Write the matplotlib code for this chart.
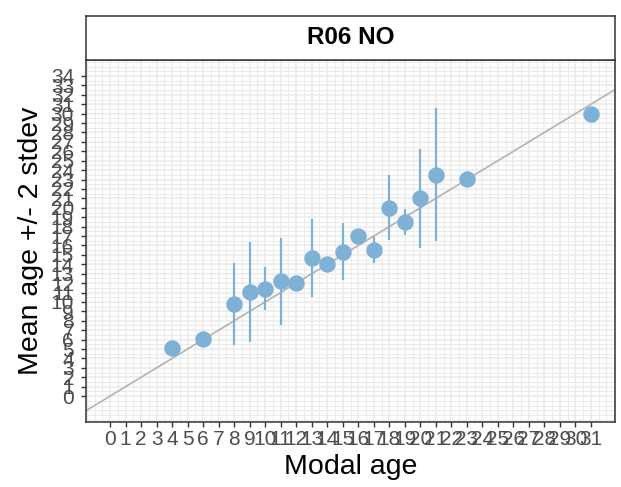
import numpy as np
import matplotlib
matplotlib.use("Agg")
import matplotlib.pyplot as plt
from matplotlib.ticker import MultipleLocator

# values
modal_age = [4, 6, 8, 9, 10, 11, 12, 13, 14, 15, 16, 17, 18, 19, 20, 21, 23, 31]
mean_age = [5.1, 6.1, 9.8, 11.05, 11.4, 12.2, 12.0, 14.7, 14.05, 15.35, 17.05,
            15.5, 20.0, 18.5, 21.0, 23.5, 23.05, 30.0]
two_stdev = [0, 0, 4.35, 5.3, 2.3, 4.6, 0, 4.15, 0, 3.05, 0,
             1.35, 3.45, 1.4, 5.25, 7.05, 0, 0]
x_breaks = list(range(0, 32))
y_breaks = list(range(0, 35))
strip_title = "R06 NO"

point_color = '#7eb1d5'
grid_color = '#ebebeb'
frame_color = '#333333'

plt.rcParams['font.family'] = ['Liberation Sans', 'DejaVu Sans']


def age_bias_plot(fig, xlim, ylim):
    ax = fig.add_axes([86 / 621, 65 / 487, 529 / 621, 362.5 / 487])
    strip = fig.add_axes([86 / 621, 427.5 / 487, 529 / 621, 43.8 / 487])

    ax.set_xlim(xlim)
    ax.set_ylim(ylim)
    ax.xaxis.set_minor_locator(MultipleLocator(0.5))
    ax.yaxis.set_minor_locator(MultipleLocator(0.5))
    ax.grid(which='major', color=grid_color, linewidth=1.1, zorder=0)
    ax.grid(which='minor', color=grid_color, linewidth=0.7, zorder=0)
    ax.set_axisbelow(True)

    ax.set_xticks(x_breaks)
    ax.set_xticklabels([str(v) for v in x_breaks])
    ax.set_yticks(y_breaks)
    ax.set_yticklabels([str(v) for v in y_breaks])
    ax.tick_params(which='major', length=3.6, width=1, color=frame_color,
                   labelsize=15, labelcolor='#4d4d4d')
    ax.tick_params(axis='x', pad=2)
    ax.tick_params(axis='y', pad=5)
    ax.tick_params(which='minor', length=0)

    # 1:1 line
    ax.axline((0, 0), slope=1, color='#b3b3b3', linewidth=1.2, zorder=2)

    ax.vlines(modal_age, np.array(mean_age) - np.array(two_stdev),
              np.array(mean_age) + np.array(two_stdev),
              color=point_color, linewidth=1.6, zorder=3)
    ax.plot(modal_age, mean_age, linestyle='none', marker='o', markersize=10.8,
            markerfacecolor=point_color, markeredgecolor=point_color, zorder=4)

    for spine in ax.spines.values():
        spine.set_color(frame_color)
        spine.set_linewidth(1.1)

    ax.set_xlabel("Modal age", fontsize=20.5, labelpad=4)
    ax.set_ylabel("Mean age +/- 2 stdev", fontsize=20.5, labelpad=5)

    strip.set_xticks([])
    strip.set_yticks([])
    for spine in strip.spines.values():
        spine.set_color(frame_color)
        spine.set_linewidth(1.1)
    strip.text(0.5, 0.5, strip_title, ha='center', va='center',
               fontsize=17.5, fontweight='bold', transform=strip.transAxes)
    return ax


fig = plt.figure(figsize=(6.21, 4.87), dpi=100)
age_bias_plot(fig, xlim=(-1.55, 32.55), ylim=(-2.75, 35.75))
fig.savefig("out.png", dpi=100)
